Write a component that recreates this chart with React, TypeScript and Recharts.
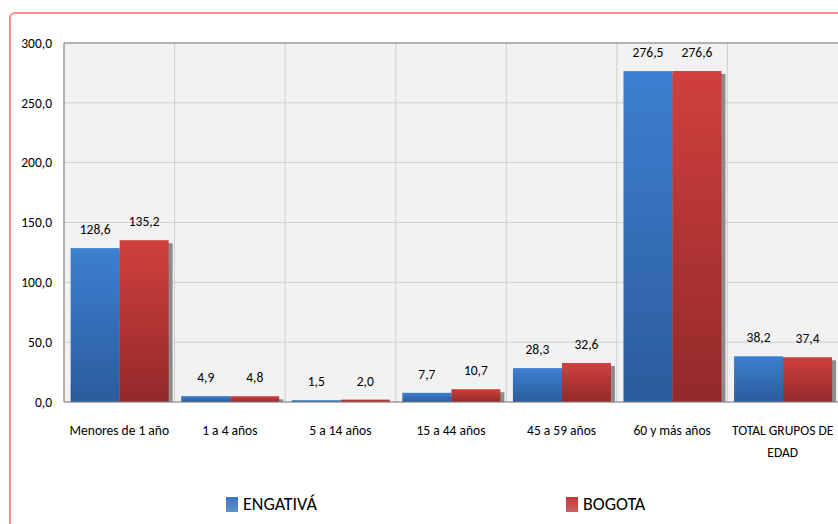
import {
  Bar,
  BarChart,
  CartesianGrid,
  LabelList,
  ReferenceLine,
  XAxis,
  YAxis,
} from 'recharts'

const categories = [
  'Menores de 1 año',
  '1 a 4 años',
  '5 a 14 años',
  '15 a 44 años',
  '45 a 59 años',
  '60 y más años',
  'TOTAL GRUPOS DE EDAD',
]
const engativa = [128.6, 4.9, 1.5, 7.7, 28.3, 276.5, 38.2]
const bogota = [135.2, 4.8, 2.0, 10.7, 32.6, 276.6, 37.4]
const yTicks = [0, 50, 100, 150, 200, 250, 300]
const seriesNames = ['ENGATIVÁ', 'BOGOTA']

const FONT = 'Carlito, "Liberation Sans Narrow", "DejaVu Sans Condensed", sans-serif'

const data = categories.map((name, i) => ({
  name,
  engativa: engativa[i],
  bogota: bogota[i],
}))

const fmt = (v: number) => v.toFixed(1).replace('.', ',')

function ShadowBar(props: any) {
  const { x, y, width, height, fill } = props
  if (!height || height <= 0) return null
  return (
    <g>
      <rect x={x + 4} y={y + 3} width={width} height={Math.max(height - 3, 0)} fill="#8c8c8c" />
      <rect x={x} y={y} width={width} height={height} fill={fill} />
    </g>
  )
}

function CategoryTick(props: any) {
  const { x, y, payload } = props
  const label: string = payload.value
  const lines = label === 'TOTAL GRUPOS DE EDAD' ? ['TOTAL GRUPOS DE', 'EDAD'] : [label]
  return (
    <text x={x} y={y} textAnchor="middle" fontSize={13.5} fill="#000" fontFamily={FONT}>
      {lines.map((l, i) => (
        <tspan key={i} x={x} dy={i === 0 ? 25 : 22}>
          {l}
        </tspan>
      ))}
    </text>
  )
}

function LegendBox() {
  const colors = ['#3a74c0', '#c03838']
  return (
    <div
      style={{
        position: 'absolute',
        left: 226,
        top: 493,
        display: 'flex',
        fontFamily: FONT,
        fontSize: 18,
      }}
    >
      {seriesNames.map((name, i) => (
        <div key={name} style={{ width: 340, display: 'flex', alignItems: 'center' }}>
          <span
            style={{
              display: 'inline-block',
              width: 12,
              height: 15,
              marginRight: 5,
              background: `linear-gradient(${colors[i]}, ${colors[i]}cc)`,
            }}
          />
          <span style={{ color: '#000' }}>{name}</span>
        </div>
      ))}
    </div>
  )
}

export default function App() {
  return (
    <div style={{ position: 'absolute', left: 0, top: 0, width: 838, height: 524, overflow: 'hidden', background: '#fff' }}>
      <div
        style={{
          position: 'absolute',
          left: 9,
          top: 12,
          width: 900,
          height: 600,
          border: '2px solid #ff8a8a',
          borderRadius: 6,
          boxSizing: 'border-box',
        }}
      />
      <BarChart
        width={838}
        height={524}
        data={data}
        margin={{ top: 43, right: 0, bottom: 0, left: 0 }}
        barCategoryGap="6%"
        barGap={0}
        style={{ position: 'absolute', left: 0, top: 0 }}
      >
        <defs>
          <linearGradient id="gBlue" x1="0" y1="0" x2="0" y2="1">
            <stop offset="0%" stopColor="#3d7fd1" />
            <stop offset="100%" stopColor="#2b5c9c" />
          </linearGradient>
          <linearGradient id="gRed" x1="0" y1="0" x2="0" y2="1">
            <stop offset="0%" stopColor="#d0403d" />
            <stop offset="100%" stopColor="#93292a" />
          </linearGradient>
        </defs>
        <CartesianGrid
          fill="#f2f2f2"
          stroke="#cfcfcf"
          verticalCoordinatesGenerator={({ offset }: any) =>
            categories.map((_, i) => offset.left + (i * offset.width) / categories.length)
          }
        />
        <XAxis
          dataKey="name"
          interval={0}
          tickLine={false}
          axisLine={{ stroke: '#808080' }}
          tick={<CategoryTick />}
          height={122}
        />
        <YAxis
          domain={[0, 300]}
          ticks={yTicks}
          tickFormatter={fmt}
          tickLine={false}
          axisLine={{ stroke: '#808080' }}
          width={64}
          tick={{ fontSize: 13.5, fill: '#000', fontFamily: FONT }}
          tickMargin={6}
        />
        <ReferenceLine y={300} stroke="#808080" />
        <Bar dataKey="engativa" name={seriesNames[0]} fill="url(#gBlue)" shape={<ShadowBar />} isAnimationActive={false}>
          <LabelList dataKey="engativa" position="top" offset={14} formatter={(v: any) => fmt(Number(v))} style={{ fontSize: 13.5, fill: '#000', fontFamily: FONT }} />
        </Bar>
        <Bar dataKey="bogota" name={seriesNames[1]} fill="url(#gRed)" shape={<ShadowBar />} isAnimationActive={false}>
          <LabelList dataKey="bogota" position="top" offset={14} formatter={(v: any) => fmt(Number(v))} style={{ fontSize: 13.5, fill: '#000', fontFamily: FONT }} />
        </Bar>
      </BarChart>
      <LegendBox />
    </div>
  )
}
